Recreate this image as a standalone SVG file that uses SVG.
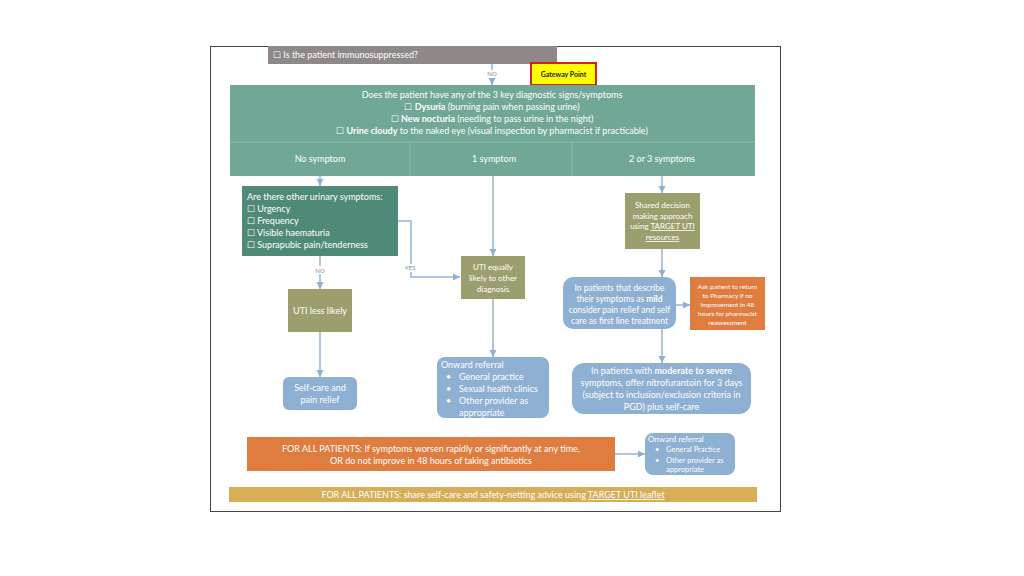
<svg xmlns="http://www.w3.org/2000/svg" width="1024" height="576" viewBox="0 0 1024 576">
<defs>
<marker id="ah" markerWidth="8" markerHeight="8" refX="7" refY="4" orient="auto" markerUnits="userSpaceOnUse">
<path d="M0,0.5 L7,4 L0,7.5 Z" fill="#8fb0d0"/>
</marker>
<style>
text{font-family:Lato,"Open Sans","Liberation Sans",sans-serif;fill:#fff;font-size:9px}
.c{text-anchor:middle}
.b{font-weight:bold}
.u{text-decoration:underline}
.teal{fill:#70a797}
.dteal{fill:#4f8a78}
.olive{fill:#9c9e6d}
.blue{fill:#8eb0d2}
.orange{fill:#df7c40}
.ln{stroke:#93b3d3;stroke-width:1.5;fill:none}
.lbl{fill:#8a8a8a;font-size:6px}
.sm{font-size:6.5px}
</style>
</defs>
<rect width="1024" height="576" fill="#fff"/>
<rect x="210.5" y="46.5" width="570" height="465" fill="#fff" stroke="#444" stroke-width="1"/>

<g id="immuno">
<rect x="268" y="46" width="289" height="18" fill="#8e8888"/>
<text x="273" y="58">☐ Is the patient immunosuppressed?</text>
</g>

<g id="gateway">
<rect x="531" y="63" width="65" height="22" fill="#ffff00" stroke="#d42020" stroke-width="2"/>
<text x="563.5" y="77" class="c b" style="fill:#222;font-size:7px">Gateway Point</text>
</g>

<g id="diagnostic">
<rect x="230" y="85" width="525" height="91" class="teal"/>
<line x1="230" y1="142" x2="755" y2="142" stroke="#8dbbae" stroke-width="1"/>
<line x1="410" y1="142" x2="410" y2="176" stroke="#8dbbae" stroke-width="1"/>
<line x1="572" y1="142" x2="572" y2="176" stroke="#8dbbae" stroke-width="1"/>
<text x="492" y="98" class="c">Does the patient have any of the 3 key diagnostic signs/symptoms</text>
<text x="492" y="110" class="c">☐ <tspan class="b">Dysuria</tspan> (burning pain when passing urine)</text>
<text x="492" y="122" class="c">☐ <tspan class="b">New nocturia</tspan> (needing to pass urine in the night)</text>
<text x="492" y="134" class="c">☐ <tspan class="b">Urine cloudy</tspan> to the naked eye (visual inspection by pharmacist if practicable)</text>
<text x="320" y="162" class="c">No symptom</text>
<text x="494" y="162" class="c">1 symptom</text>
<text x="662" y="162" class="c">2 or 3 symptoms</text>
</g>

<g id="other-symptoms">
<rect x="242" y="186" width="156" height="70" class="dteal"/>
<text x="247" y="200">Are there other urinary symptoms:</text>
<text x="247" y="212">☐ Urgency</text>
<text x="247" y="224">☐ Frequency</text>
<text x="247" y="236">☐ Visible haematuria</text>
<text x="247" y="248">☐ Suprapubic pain/tenderness</text>
</g>

<g id="uti-less">
<rect x="288" y="289" width="64" height="43" class="olive"/>
<text x="320" y="314" class="c">UTI less likely</text>
</g>

<g id="self-care">
<rect x="283" y="377" width="74" height="33" rx="6" class="blue"/>
<text x="320" y="391" class="c">Self-care and</text>
<text x="320" y="403" class="c">pain relief</text>
</g>

<g id="uti-equal">
<rect x="461" y="256" width="64" height="43" class="olive"/>
<text x="493" y="270" class="c" style="font-size:8px">UTI equally</text>
<text x="493" y="281" class="c" style="font-size:8px">likely to other</text>
<text x="493" y="292" class="c" style="font-size:8px">diagnosis</text>
</g>

<g id="onward1">
<rect x="437" y="357" width="112" height="61" rx="8" class="blue"/>
<text x="441" y="368">Onward referral</text>
<text x="446" y="380">•</text><text x="459" y="380">General practice</text>
<text x="446" y="392">•</text><text x="459" y="392">Sexual health clinics</text>
<text x="446" y="404">•</text><text x="459" y="404">Other provider as</text>
<text x="459" y="416">appropriate</text>
</g>

<g id="shared">
<rect x="625" y="193" width="75" height="56" class="olive"/>
<text x="662.5" y="208" class="c" style="font-size:8px">Shared decision</text>
<text x="662.5" y="219" class="c" style="font-size:8px">making approach</text>
<text x="662.5" y="229" class="c" style="font-size:8px">using <tspan class="u">TARGET UTI</tspan></text>
<text x="662.5" y="240" class="c u" style="font-size:8px">resources</text>
</g>

<g id="mild">
<rect x="563" y="277" width="113" height="52" rx="10" class="blue"/>
<text x="619.5" y="291" class="c" style="font-size:8.5px">In patients that describe</text>
<text x="619.5" y="302" class="c" style="font-size:8.5px">their symptoms as <tspan class="b">mild</tspan></text>
<text x="619.5" y="313" class="c" style="font-size:8.5px">consider pain relief and self</text>
<text x="619.5" y="324" class="c" style="font-size:8.5px">care as first line treatment</text>
</g>

<g id="return">
<rect x="690" y="277" width="75" height="53" class="orange"/>
<text x="727.5" y="289" class="c sm">Ask patient to return</text>
<text x="727.5" y="298" class="c sm">to Pharmacy if no</text>
<text x="727.5" y="307" class="c sm">improvement in 48</text>
<text x="727.5" y="316" class="c sm">hours for pharmacist</text>
<text x="727.5" y="325" class="c sm">reassessment</text>
</g>

<g id="moderate">
<rect x="572" y="363" width="179" height="51" rx="12" class="blue"/>
<text x="661.5" y="374" class="c">In patients with <tspan class="b">moderate to severe</tspan></text>
<text x="661.5" y="386" class="c">symptoms, offer nitrofurantoin for 3 days</text>
<text x="661.5" y="398" class="c">(subject to inclusion/exclusion criteria in</text>
<text x="661.5" y="410" class="c">PGD) plus self-care</text>
</g>

<g id="worsen">
<rect x="247" y="437" width="368" height="34" class="orange"/>
<text x="431" y="452" class="c">FOR ALL PATIENTS: If symptoms worsen rapidly or significantly at any time,</text>
<text x="431" y="464" class="c">OR do not improve in 48 hours of taking antibiotics</text>
</g>

<g id="onward2">
<rect x="645" y="433" width="90" height="42" rx="8" class="blue"/>
<text x="648" y="442" style="font-size:8px">Onward referral</text>
<text x="655" y="452" style="font-size:7.5px">•</text><text x="666" y="452" style="font-size:7.5px">General Practice</text>
<text x="655" y="463" style="font-size:7.5px">•</text><text x="666" y="463" style="font-size:7.5px">Other provider as</text>
<text x="666" y="472" style="font-size:7.5px">appropriate</text>
</g>

<g id="leaflet">
<rect x="229" y="487" width="528" height="15" fill="#d5ae57"/>
<text x="493" y="498" class="c">FOR ALL PATIENTS: share self-care and safety-netting advice using <tspan class="u">TARGET UTI leaflet</tspan></text>
</g>

<g id="connectors">
<path class="ln" d="M492,64 V85" marker-end="url(#ah)"/>
<path class="ln" d="M320,176 V186" marker-end="url(#ah)"/>
<path class="ln" d="M320,256 V289" marker-end="url(#ah)"/>
<path class="ln" d="M398,221 H411 V277 H460" marker-end="url(#ah)"/>
<path class="ln" d="M493,176 V256" marker-end="url(#ah)"/>
<path class="ln" d="M493,299 V357" marker-end="url(#ah)"/>
<path class="ln" d="M320,332 V377" marker-end="url(#ah)"/>
<path class="ln" d="M662,176 V193" marker-end="url(#ah)"/>
<path class="ln" d="M662,249 V277" marker-end="url(#ah)"/>
<path class="ln" d="M676,305 H690" marker-end="url(#ah)"/>
<path class="ln" d="M662,329 V363" marker-end="url(#ah)"/>
<path class="ln" d="M615,454 H645" marker-end="url(#ah)"/>
<rect x="484" y="70" width="16" height="8" fill="#fff"/>
<text x="492" y="76" class="c lbl">NO</text>
<rect x="312" y="266" width="16" height="8" fill="#fff"/>
<text x="320" y="273" class="c lbl">NO</text>
<rect x="403" y="264" width="16" height="8" fill="#fff"/>
<text x="410" y="270" class="c lbl">YES</text>
</g>
</svg>
